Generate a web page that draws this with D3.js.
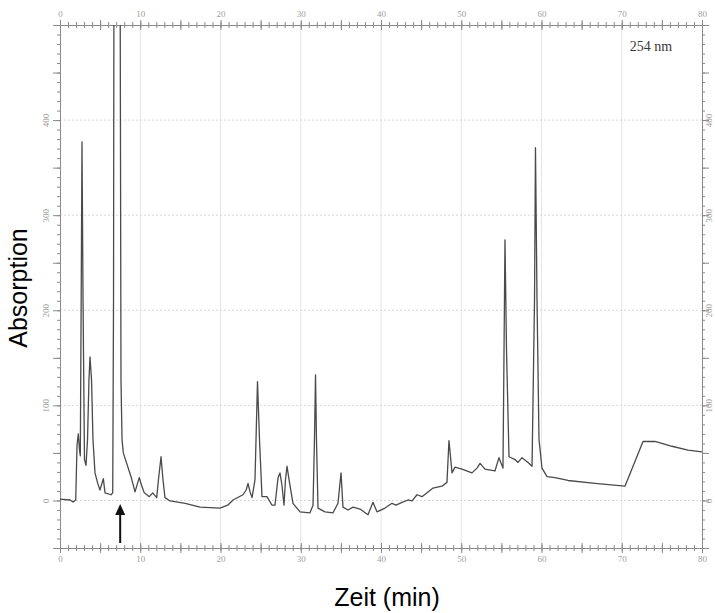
<!DOCTYPE html>
<html>
<head>
<meta charset="utf-8">
<script src="https://cdn.jsdelivr.net/npm/d3@7"></script>
<style>
    body { margin: 0; background: #fff; }
    svg { display: block; }
</style>
</head>
<body>
<svg id="chart" width="715" height="613"></svg>
<script>
// retention time (min) and detector signal
var times = [0, 1.25, 1.62, 1.96, 2.12, 2.28, 2.43, 2.53, 2.64, 2.74, 2.87, 3.05, 3.24, 3.43, 3.61, 3.74, 3.93, 4.11,
    4.36, 4.70, 4.98, 5.40, 5.61, 6.36, 6.57, 6.67, 6.73, 7.48, 7.6, 7.73, 7.89, 8.31, 8.85, 9.35, 9.66, 9.88,
    10.16, 10.5, 11.13, 11.55, 12.05, 12.27, 12.59, 12.83, 13.08, 13.7, 15.6, 17.45, 19.94, 20.9, 21.56, 22.8,
    23.2, 23.43, 23.68, 23.93, 24.3, 24.61, 24.86, 25.17, 25.79, 26.42, 26.79, 27.17, 27.41, 27.66, 27.91, 28.1,
    28.29, 28.54, 29.03, 29.91, 31.15, 31.53, 31.71, 31.84, 31.96, 32.15, 33.02, 34.02, 34.64, 35.02, 35.26,
    35.89, 36.51, 37.38, 38.38, 39.0, 39.5, 40.5, 41.37, 41.87, 42.62, 43.36, 43.86, 44.49, 45.11, 45.86, 46.48,
    47.6, 48.22, 48.47, 48.85, 49.22, 50.09, 51.34, 51.96, 52.34, 52.96, 54.2, 54.7, 55.2, 55.33, 55.45, 55.64,
    55.95, 56.7, 57.07, 57.57, 58.32, 58.82, 59.13, 59.25, 59.44, 59.69, 60.06, 60.69, 61.68, 63.3, 66.67,
    70.4, 72.65, 74.14, 76.26, 78.25, 80];
var signal = [1.5, 0.5, -1.6, 0.5, 58, 70, 53, 47, 211, 377, 211, 43, 37, 64, 127, 151, 127, 64,
    29, 18, 11, 23, 8, 6, 8, 211, 600, 600, 127, 64, 50, 39, 25, 9, 18, 24,
    16, 8, 4, 8, 3, 22, 46, 22, 3, -0.5, -3, -7, -8, -5, 0.5, 6,
    11, 18, 9, 3, 22, 125, 64, 4, 4, -5, -5, 24, 29, 16, -5, 22,
    36, 22, -3, -12, -13, -5, 64, 132, 64, -8, -12, -13, -3, 29, -7,
    -10, -7, -9, -15, -2, -12, -8, -3, -5, -2, 0.5, -0.5, 6, 4, 9, 13,
    15, 19, 63, 29, 35, 33, 29, 34, 39, 33, 31, 45, 34, 158, 274, 158,
    46, 43, 40, 45, 40, 36, 211, 371, 211, 64, 34, 25, 24, 21, 18,
    15, 62, 62, 57, 53, 51];

var xTicks = [0, 10, 20, 30, 40, 50, 60, 70, 80];
var yTicks = [0, 100, 200, 300, 400];
var wavelengthLabel = "254 nm";
var xTitle = "Zeit (min)";
var yTitle = "Absorption";

(function () {

    var svg = d3.select("#chart"),
        plotLeft = 60, plotRight = 702, plotTop = 25, plotBottom = 548;

    var x = d3.scaleLinear().domain([0, 80]).range([plotLeft, plotRight]);
    var y = d3.scaleLinear().domain([-50, 500]).range([plotBottom, plotTop]);

    var axisColor = "#8a8a8a",
        labelColor = "#a0a0a0",
        serif = "'Liberation Serif', 'DejaVu Serif', serif";

    svg.append("defs").append("clipPath")
        .attr("id", "plot-clip")
        .append("rect")
        .attr("x", plotLeft).attr("y", plotTop)
        .attr("width", plotRight - plotLeft).attr("height", plotBottom - plotTop);

    // faint grid
    var grid = svg.append("g").attr("class", "grid");

    grid.selectAll(".vgrid")
        .data(xTicks.slice(1, -1))
        .enter()
        .append("line")
        .attr("class", "vgrid")
        .attr("x1", function (d) { return x(d); })
        .attr("x2", function (d) { return x(d); })
        .attr("y1", plotTop).attr("y2", plotBottom)
        .style("stroke", "#e6e6e6")
        .style("stroke-width", 1);

    grid.selectAll(".hgrid")
        .data(yTicks)
        .enter()
        .append("line")
        .attr("class", "hgrid")
        .attr("x1", plotLeft).attr("x2", plotRight)
        .attr("y1", function (d) { return y(d); })
        .attr("y2", function (d) { return y(d); })
        .style("stroke", "#d8d8d8")
        .style("stroke-width", 1)
        .style("stroke-dasharray", "2,2");

    function styleAxis(g) {
        g.select(".domain").style("stroke", axisColor);
        g.selectAll(".tick line").style("stroke", axisColor);
        g.selectAll("text")
            .style("fill", labelColor)
            .style("font-family", serif)
            .style("font-size", "9px");
    }

    // minor ticks every 1 min / 10 units, medium at 5 min / 50 units
    var xMinor = d3.range(0, 80.5, 1),
        yMinor = d3.range(-50, 505, 10);

    [["bottom", plotBottom], ["top", plotTop]].forEach(function (pos) {
        var make = pos[0] === "bottom" ? d3.axisBottom : d3.axisTop,
            flip = pos[0] === "bottom" ? -1 : 1,
            g = svg.append("g").attr("transform", "translate(0," + pos[1] + ")");

        g.append("g")
            .call(make(x).tickValues(xMinor).tickSize(3).tickFormat(""))
            .call(styleAxis)
            .selectAll(".tick line")
            .attr("y1", flip * 3);

        g.append("g")
            .call(make(x).tickValues(xMinor.filter(function (d) { return d % 5 === 0; })).tickSize(5).tickFormat(""))
            .call(styleAxis)
            .selectAll(".tick line")
            .attr("y1", flip * 5);

        g.append("g")
            .call(make(x).tickValues(xTicks).tickSize(0).tickPadding(8).tickFormat(d3.format("d")))
            .call(styleAxis)
            .select(".domain").remove();
    });

    [["left", plotLeft, 14], ["right", plotRight, 7]].forEach(function (pos) {
        var make = pos[0] === "left" ? d3.axisLeft : d3.axisRight,
            sign = pos[0] === "left" ? -1 : 1,
            g = svg.append("g").attr("transform", "translate(" + pos[1] + ",0)");

        g.append("g")
            .call(make(y).tickValues(yMinor).tickSize(3).tickFormat(""))
            .call(styleAxis);

        g.append("g")
            .call(make(y).tickValues(yMinor.filter(function (d) { return d % 50 === 0; })).tickSize(7).tickFormat(""))
            .call(styleAxis);

        g.append("g")
            .call(make(y).tickValues(yTicks).tickSize(0).tickFormat(d3.format("d")))
            .call(styleAxis)
            .call(function (ax) {
                ax.select(".domain").remove();
                ax.selectAll("text")
                    .attr("x", null).attr("dy", null)
                    .attr("y", 3)
                    .style("text-anchor", "middle")
                    .attr("transform", "translate(" + (sign * pos[2]) + ",0) rotate(-90)");
            });
    });

    // chromatogram trace
    var trace = times.map(function (t, i) { return [t, signal[i]]; });

    svg.append("path")
        .datum(trace)
        .attr("clip-path", "url(#plot-clip)")
        .attr("d", d3.line()
            .x(function (d) { return x(d[0]); })
            .y(function (d) { return y(d[1]); }))
        .style("fill", "none")
        .style("stroke", "#4a4a4a")
        .style("stroke-width", 1.3)
        .style("stroke-linejoin", "round");

    svg.append("text")
        .attr("x", x(71))
        .attr("y", 51)
        .text(wavelengthLabel)
        .style("font-family", serif)
        .style("font-size", "14px")
        .style("fill", "#3a3a3a");

    // injection marker
    var arrowX = x(7.5);
    svg.append("line")
        .attr("x1", arrowX).attr("x2", arrowX)
        .attr("y1", 543).attr("y2", 512)
        .style("stroke", "#111")
        .style("stroke-width", 2);
    svg.append("path")
        .attr("d", "M" + (arrowX - 5) + ",515 L" + arrowX + ",504 L" + (arrowX + 5) + ",515 Z")
        .style("fill", "#111");

    svg.append("text")
        .attr("x", 387)
        .attr("y", 606)
        .style("text-anchor", "middle")
        .style("font-family", "'Liberation Sans', Arial, sans-serif")
        .style("font-size", "25px")
        .style("fill", "#000")
        .text(xTitle);

    svg.append("text")
        .attr("transform", "translate(27,288) rotate(-90)")
        .style("text-anchor", "middle")
        .style("font-family", "'Liberation Sans', Arial, sans-serif")
        .style("font-size", "25px")
        .style("fill", "#000")
        .text(yTitle);

})();
</script>
</body>
</html>
